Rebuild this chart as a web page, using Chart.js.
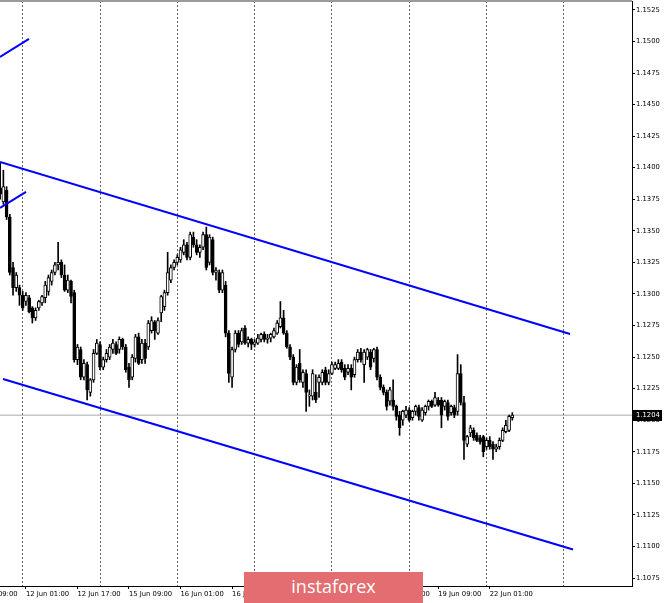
<!DOCTYPE html>
<html><head><meta charset="utf-8">
<script src="https://cdn.jsdelivr.net/npm/chart.js@4.4.1/dist/chart.umd.min.js"></script>
<style>
html,body{margin:0;padding:0;background:#fff;}
#wrap{position:relative;width:665px;height:603px;overflow:hidden;background:#fff;}
#logo{position:absolute;left:244px;top:572px;width:179px;height:31px;background:#e36d70;}
#logo span{position:absolute;left:0;right:0;top:2px;line-height:24px;text-align:center;color:#fff;font-family:"Open Sans";font-size:18px;}
</style></head>
<body><div id="wrap"><canvas id="c" width="665" height="603"></canvas><div id="logo"><span>instaforex</span></div></div>
<script>
// EUR/USD H1, bar 0 = 11 Jun 17:00
const openP = [1.1384,1.1373,1.1382,1.1361,1.1321,1.1305,1.1305,1.1299,1.1294,1.1297,1.1289,1.1281,1.1289,1.1293,1.1297,1.1302,1.1310,1.1317,1.1323,1.1325,
1.1315,1.1303,1.1310,1.1301,1.1248,1.1256,1.1234,1.1244,1.1222,1.1232,1.1253,1.1260,1.1242,1.1248,1.1250,1.1256,1.1260,1.1256,1.1264,1.1258,
1.1242,1.1234,1.1249,1.1266,1.1248,1.1261,1.1258,1.1271,1.1278,1.1269,1.1285,1.1290,1.1301,1.1311,1.1321,1.1325,1.1327,1.1333,1.1339,1.1329,
1.1345,1.1339,1.1333,1.1337,1.1347,1.1325,1.1343,1.1317,1.1317,1.1303,1.1307,1.1269,1.1234,1.1256,1.1269,1.1262,1.1273,1.1261,1.1264,1.1260,
1.1261,1.1264,1.1268,1.1264,1.1265,1.1266,1.1269,1.1274,1.1281,1.1269,1.1258,1.1250,1.1230,1.1245,1.1230,1.1237,1.1219,1.1219,1.1222,1.1230,
1.1230,1.1240,1.1230,1.1237,1.1241,1.1241,1.1246,1.1241,1.1238,1.1241,1.1236,1.1248,1.1254,1.1244,1.1250,1.1254,1.1249,1.1256,1.1234,1.1226,
1.1222,1.1215,1.1216,1.1211,1.1204,1.1200,1.1204,1.1208,1.1202,1.1207,1.1210,1.1200,1.1206,1.1211,1.1215,1.1212,1.1216,1.1216,1.1211,1.1214,
1.1206,1.1210,1.1207,1.1237,1.1214,1.1181,1.1190,1.1192,1.1188,1.1186,1.1187,1.1179,1.1184,1.1181,1.1177,1.1179,1.1184,1.1191,1.1192,1.1202];
const highP = [1.1404,1.1398,1.1385,1.1363,1.1325,1.1317,1.1307,1.1302,1.1301,1.1299,1.1290,1.1289,1.1295,1.1299,1.1310,1.1315,1.1319,1.1325,1.1341,1.1327,
1.1323,1.1315,1.1311,1.1303,1.1260,1.1258,1.1248,1.1246,1.1233,1.1256,1.1264,1.1262,1.1250,1.1256,1.1260,1.1264,1.1262,1.1266,1.1265,1.1260,
1.1245,1.1252,1.1268,1.1269,1.1264,1.1264,1.1279,1.1282,1.1279,1.1281,1.1299,1.1303,1.1333,1.1323,1.1327,1.1331,1.1337,1.1343,1.1341,1.1349,
1.1349,1.1343,1.1339,1.1349,1.1353,1.1347,1.1345,1.1321,1.1319,1.1319,1.1310,1.1271,1.1258,1.1271,1.1271,1.1273,1.1275,1.1266,1.1265,1.1264,
1.1268,1.1269,1.1270,1.1268,1.1269,1.1273,1.1279,1.1294,1.1287,1.1271,1.1260,1.1252,1.1244,1.1256,1.1240,1.1240,1.1224,1.1240,1.1236,1.1236,
1.1240,1.1242,1.1240,1.1246,1.1246,1.1248,1.1248,1.1244,1.1244,1.1244,1.1250,1.1256,1.1257,1.1256,1.1257,1.1256,1.1257,1.1258,1.1236,1.1228,
1.1224,1.1226,1.1232,1.1212,1.1207,1.1208,1.1211,1.1210,1.1208,1.1212,1.1212,1.1210,1.1212,1.1216,1.1216,1.1222,1.1218,1.1218,1.1216,1.1216,
1.1212,1.1212,1.1252,1.1244,1.1219,1.1188,1.1196,1.1194,1.1190,1.1188,1.1188,1.1186,1.1187,1.1183,1.1181,1.1186,1.1194,1.1200,1.1204,1.1206];
const lowP = [1.1375,1.1371,1.1359,1.1315,1.1299,1.1302,1.1291,1.1287,1.1291,1.1285,1.1277,1.1279,1.1287,1.1291,1.1293,1.1299,1.1307,1.1315,1.1319,1.1313,
1.1302,1.1301,1.1293,1.1246,1.1244,1.1232,1.1232,1.1216,1.1219,1.1230,1.1252,1.1240,1.1240,1.1246,1.1248,1.1253,1.1252,1.1253,1.1256,1.1238,
1.1226,1.1232,1.1246,1.1244,1.1245,1.1245,1.1256,1.1269,1.1264,1.1268,1.1278,1.1287,1.1299,1.1309,1.1319,1.1323,1.1325,1.1331,1.1327,1.1327,
1.1337,1.1331,1.1329,1.1335,1.1319,1.1323,1.1315,1.1311,1.1301,1.1301,1.1266,1.1230,1.1226,1.1254,1.1258,1.1260,1.1260,1.1258,1.1256,1.1258,
1.1260,1.1262,1.1262,1.1261,1.1262,1.1265,1.1268,1.1273,1.1268,1.1257,1.1248,1.1228,1.1228,1.1230,1.1226,1.1207,1.1211,1.1216,1.1214,1.1218,
1.1228,1.1228,1.1228,1.1236,1.1240,1.1240,1.1238,1.1232,1.1236,1.1224,1.1234,1.1246,1.1246,1.1230,1.1248,1.1240,1.1246,1.1232,1.1224,1.1220,
1.1208,1.1212,1.1208,1.1200,1.1188,1.1196,1.1202,1.1199,1.1200,1.1204,1.1200,1.1199,1.1204,1.1208,1.1210,1.1211,1.1211,1.1194,1.1208,1.1200,
1.1204,1.1202,1.1204,1.1212,1.1169,1.1179,1.1187,1.1184,1.1183,1.1181,1.1171,1.1177,1.1177,1.1169,1.1175,1.1177,1.1183,1.1190,1.1191,1.1200];
const closeP = [1.1379,1.1385,1.1361,1.1317,1.1305,1.1315,1.1299,1.1289,1.1299,1.1286,1.1281,1.1287,1.1294,1.1298,1.1307,1.1313,1.1317,1.1323,1.1325,1.1315,
1.1303,1.1311,1.1298,1.1248,1.1258,1.1234,1.1245,1.1224,1.1232,1.1253,1.1261,1.1242,1.1248,1.1253,1.1258,1.1261,1.1253,1.1264,1.1258,1.1240,
1.1232,1.1250,1.1266,1.1245,1.1261,1.1249,1.1277,1.1279,1.1271,1.1279,1.1298,1.1301,1.1317,1.1321,1.1325,1.1329,1.1335,1.1339,1.1329,1.1347,
1.1339,1.1333,1.1337,1.1347,1.1321,1.1345,1.1317,1.1319,1.1303,1.1317,1.1269,1.1237,1.1256,1.1269,1.1260,1.1271,1.1261,1.1264,1.1260,1.1262,
1.1265,1.1268,1.1264,1.1265,1.1268,1.1271,1.1277,1.1281,1.1269,1.1258,1.1250,1.1230,1.1242,1.1232,1.1238,1.1222,1.1220,1.1237,1.1216,1.1234,
1.1238,1.1230,1.1237,1.1244,1.1244,1.1245,1.1240,1.1234,1.1241,1.1234,1.1248,1.1254,1.1248,1.1254,1.1256,1.1242,1.1256,1.1234,1.1226,1.1222,
1.1211,1.1224,1.1211,1.1203,1.1194,1.1207,1.1208,1.1200,1.1207,1.1211,1.1203,1.1208,1.1211,1.1215,1.1211,1.1218,1.1212,1.1204,1.1215,1.1203,
1.1211,1.1204,1.1237,1.1214,1.1184,1.1187,1.1194,1.1186,1.1184,1.1183,1.1175,1.1184,1.1179,1.1177,1.1179,1.1184,1.1192,1.1196,1.1203,1.1204];

// time axis labels (bar index -> label)
const tickBars = [-8, 8, 24, 40, 56, 72, 88, 104, 120, 136, 152];
const tickLabels = ['11 Jun 09:00','12 Jun 01:00','12 Jun 17:00','15 Jun 09:00','16 Jun 01:00','16 Jun 17:00','17 Jun 09:00','18 Jun 01:00','18 Jun 17:00','19 Jun 09:00','22 Jun 01:00'];
// midnight separators: 12,15,16,17,18,19,22,23 Jun 00:00
const dayBreakBars = [7, 31, 55, 79, 103, 127, 151, 175];
const priceTicks = [1.1075,1.1100,1.1125,1.1150,1.1175,1.1200,1.1225,1.1250,1.1275,1.1300,1.1325,1.1350,1.1375,1.1400,1.1425,1.1450,1.1475,1.1500,1.1525];

// trend lines (bar index, price)
const upperChannelBars = [-0.05, 176.92];
const upperChannelPrices = [1.14045, 1.12683];
const lowerChannelBars = [0.88, 177.85];
const lowerChannelPrices = [1.12327, 1.10976];
const shortLine1Bars = [-0.05, 8.96];
const shortLine1Prices = [1.14877, 1.15020];
const shortLine2Bars = [-0.05, 8.02];
const shortLine2Prices = [1.13681, 1.13808];

const xMin = -0.048, xMax = 196.16;
const yMin = 1.106868, yMax = 1.153206;
const lastClose = closeP[closeP.length - 1];

const wickData = openP.map((o, i) => ({x: i, y: [lowP[i], highP[i]]}));
const bodyData = openP.map((o, i) => ({x: i, y: [Math.min(o, closeP[i]), Math.max(o, closeP[i])]}));
const bodyFill = openP.map((o, i) => closeP[i] >= o ? '#ffffff' : '#000000');
const pts = (bx, py) => bx.map((b, i) => ({x: b, y: py[i]}));

const lineDs = (data) => ({type: 'line', data, borderColor: '#0000ff', borderWidth: 2, pointRadius: 0, tension: 0, order: 0, fill: false});

const FONT = {family: 'DejaVu Sans', size: 6.8};

const framePlugin = {
  id: 'frame',
  afterDraw(chart) {
    const ctx = chart.ctx, a = chart.chartArea, ys = chart.scales.y;
    ctx.save();
    ctx.fillStyle = '#9a9a9a';
    ctx.fillRect(0, 0, a.right, 2);
    const py = Math.round(ys.getPixelForValue(lastClose));
    ctx.fillStyle = '#000';
    ctx.fillRect(a.right + 1, py - 5, 29, 11);
    ctx.fillStyle = '#fff';
    ctx.font = '6.8px "DejaVu Sans"';
    ctx.textBaseline = 'middle';
    ctx.textAlign = 'left';
    ctx.fillText(lastClose.toFixed(4), a.right + 4, py + 0.5);
    ctx.restore();
  }
};

new Chart(document.getElementById('c'), {
  type: 'bar',
  data: {
    datasets: [
      lineDs(pts(upperChannelBars, upperChannelPrices)),
      lineDs(pts(lowerChannelBars, lowerChannelPrices)),
      lineDs(pts(shortLine1Bars, shortLine1Prices)),
      lineDs(pts(shortLine2Bars, shortLine2Prices)),
      {type: 'line', data: [{x: xMin, y: lastClose}, {x: xMax, y: lastClose}], borderColor: '#a8a8a8', borderWidth: 1, pointRadius: 0, order: 4},
      {type: 'bar', data: bodyData, backgroundColor: bodyFill, borderColor: '#000', borderWidth: 1, borderSkipped: false, barThickness: 3, grouped: false, order: 2},
      {type: 'bar', data: wickData, backgroundColor: '#000', borderWidth: 0, barThickness: 1, grouped: false, order: 3}
    ]
  },
  options: {
    responsive: false,
    animation: false,
    devicePixelRatio: 1,
    layout: {padding: {top: 1, left: 0, right: 0, bottom: 0}},
    plugins: {legend: {display: false}, tooltip: {enabled: false}},
    scales: {
      x: {
        type: 'linear', position: 'bottom', min: xMin, max: xMax, offset: false, bounds: 'data',
        afterBuildTicks: s => { s.ticks = tickBars.map(v => ({value: v})); },
        afterFit: s => { s.height = 17; s.paddingLeft = 0; s.paddingRight = 0; },
        ticks: {autoSkip: false, maxRotation: 0, minRotation: 0, align: 'start', padding: 1, color: '#000', font: FONT,
          callback: (v, i) => tickLabels[i]},
        grid: {offset: false, drawOnChartArea: false, tickLength: 3, color: '#000'},
        border: {display: true, color: '#000', width: 1}
      },
      xg: {
        type: 'linear', position: 'bottom', min: xMin, max: xMax, offset: false, bounds: 'data',
        afterBuildTicks: s => { s.ticks = dayBreakBars.map(v => ({value: v})); },
        afterFit: s => { s.height = 0; s.paddingLeft = 0; s.paddingRight = 0; },
        ticks: {display: false},
        grid: {offset: false, drawOnChartArea: true, drawTicks: false, color: '#606060', lineWidth: 1},
        border: {display: false, dash: [2, 2]}
      },
      y: {
        type: 'linear', position: 'right', min: yMin, max: yMax, bounds: 'data',
        afterBuildTicks: s => { s.ticks = priceTicks.map(v => ({value: v})); },
        afterFit: s => { s.width = 33; s.paddingTop = 0; s.paddingBottom = 0; },
        ticks: {padding: 1, crossAlign: 'near', color: '#000', font: FONT, callback: v => v.toFixed(4)},
        grid: {drawOnChartArea: false, tickLength: 3, color: '#000'},
        border: {display: true, color: '#000', width: 1}
      }
    }
  },
  plugins: [framePlugin]
});
</script>
</body></html>
